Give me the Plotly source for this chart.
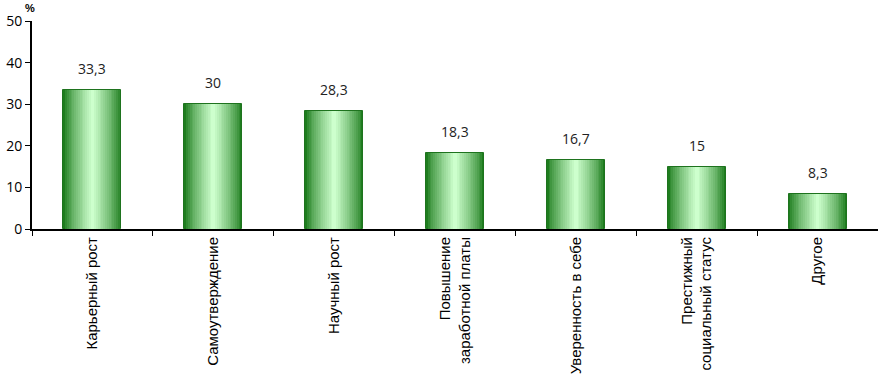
import plotly.graph_objects as go

categories = ["Карьерный рост", "Самоутверждение", "Научный рост",
              "Повышение<br>заработной платы", "Уверенность в себе",
              "Престижный<br>социальный статус", "Другое"]
values = [33.3, 30, 28.3, 18.3, 16.7, 15, 8.3]
labels = ["33,3", "30", "28,3", "18,3", "16,7", "15", "8,3"]
y_ticks = [0, 10, 20, 30, 40, 50]

fig = go.Figure()

dark = (30, 125, 30)
light = (205, 255, 205)
N = 16
full_w = 0.48
for i in range(N):
    t = i / (N - 1)
    f = t ** 0.8
    c = tuple(int(dark[k] + (light[k] - dark[k]) * f) for k in range(3))
    w = full_w * (1 - i / N)
    fig.add_trace(go.Bar(
        x=categories, y=values, width=w,
        marker=dict(color="rgb(%d,%d,%d)" % c,
                    line=dict(color="rgb(30,115,30)", width=1 if i == 0 else 0)),
        hoverinfo="skip", showlegend=False))

for c, v, lab in zip(categories, values, labels):
    fig.add_annotation(x=c, y=v, text=lab, showarrow=False, yanchor="bottom",
                       yshift=10, font=dict(family="Open Sans", size=14, color="#222"))

fig.add_annotation(x=0, y=1, xref="paper", yref="paper", text="<b>%</b>",
                   showarrow=False, xanchor="center", yanchor="top",
                   xshift=-2, yshift=20, borderpad=0,
                   font=dict(family="Liberation Sans", size=11, color="#000"))

fig.update_layout(
    barmode="overlay",
    width=878, height=378,
    margin=dict(l=32, r=0, t=21, b=149, autoexpand=False),
    paper_bgcolor="white", plot_bgcolor="white",
    bargap=0,
)
fig.update_xaxes(showline=True, linecolor="black", linewidth=2, automargin=False,
                 ticks="outside", tickson="boundaries", ticklen=5, tickcolor="black",
                 tickangle=-90, tickfont=dict(family="Liberation Sans", size=15, color="#000"),
                 showgrid=False)
fig.update_yaxes(range=[0, 50], tickvals=y_ticks, showline=True, linecolor="black", linewidth=2,
                 automargin=False,
                 ticks="outside", ticklen=5, tickcolor="black", showgrid=False, zeroline=False,
                 tickfont=dict(family="Open Sans", size=14, color="#000"))

fig.write_html("out.html", config={"displayModeBar": False},
               post_script="document.body.style.margin='0';document.body.style.overflow='hidden';")
